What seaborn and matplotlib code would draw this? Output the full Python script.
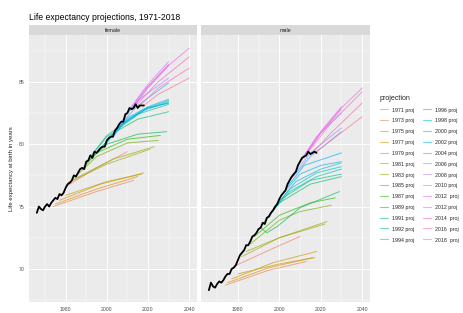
import matplotlib
matplotlib.use('Agg')
import matplotlib.pyplot as plt
import numpy as np
import pandas as pd
import seaborn as sns

sns.set_style('white')
plt.rcParams['font.family'] = ['Liberation Sans', 'DejaVu Sans']

W, H = 463, 313

obs_years = list(range(1966, 2019))
female_obs = [74.5, 75.0, 74.8, 74.7, 75.0, 75.2, 75.0, 75.3, 75.5, 75.7,
              75.6, 76.0, 75.9, 76.1, 76.5, 76.8, 76.9, 77.1, 77.5, 77.4,
              77.7, 78.0, 78.1, 78.0, 78.6, 78.7, 79.1, 78.9, 79.4, 79.3,
              79.5, 79.7, 79.8, 79.8, 80.3, 80.5, 80.6, 80.6, 81.1, 81.3,
              81.6, 81.8, 81.8, 82.4, 82.5, 82.9, 82.8, 82.9, 83.2, 82.9,
              83.1, 83.1, 83.1]
male_obs = [68.3, 68.9, 68.6, 68.5, 68.8, 69.0, 68.9, 69.1, 69.4, 69.6,
            69.6, 70.0, 70.1, 70.3, 70.7, 71.1, 71.3, 71.5, 71.9, 71.9,
            72.2, 72.6, 72.7, 72.9, 73.2, 73.3, 73.7, 73.6, 74.1, 74.2,
            74.5, 74.7, 75.0, 75.2, 75.6, 75.9, 76.1, 76.3, 76.8, 77.1,
            77.4, 77.6, 77.8, 78.3, 78.6, 78.9, 79.0, 79.1, 79.4, 79.2,
            79.3, 79.4, 79.3]

proj_labels = ['1971 proj', '1973 proj', '1975 proj', '1977 proj', '1979 proj',
               '1981 proj', '1983 proj', '1985 proj', '1987 proj', '1989 proj',
               '1991 proj', '1992 proj', '1994 proj', '1996 proj', '1998 proj',
               '2000 proj', '2002 proj', '2004 proj', '2006 proj', '2008 proj',
               '2010 proj', '2012  proj', '2012 proj', '2014  proj',
               '2016  proj', '2018  proj']

# (years, values)
female_proj = {
    '1971 proj': ([1980, 1995, 2010], [76.6, 78.1, 79.4]),
    '1973 proj': ([1974, 1995, 2013], [75.0, 76.2, 77.1]),
    '1975 proj': ([1975, 1995, 2015], [75.2, 76.4, 77.4]),
    '1977 proj': ([1977, 1997, 2018], [75.5, 76.8, 77.7]),
    '1979 proj': ([1980, 2000, 2017], [75.9, 77.0, 77.6]),
    '1981 proj': ([1981, 2000, 2021], [76.9, 78.4, 79.6]),
    '1983 proj': ([1983, 2003, 2023], [77.1, 78.8, 79.8]),
    '1985 proj': ([1986, 1995, 2010, 2025], [77.6, 79.0, 80.1, 80.3]),
    '1987 proj': ([1988, 1995, 2010, 2026], [78.0, 79.3, 80.4, 80.7]),
    '1989 proj': ([1990, 2000, 2015, 2029], [78.5, 80.0, 80.8, 81.0]),
    '1991 proj': ([1992, 2000, 2015, 2030], [79.0, 80.6, 82.0, 82.6]),
    '1992 proj': ([1993, 2000, 2015, 2030], [79.2, 80.7, 82.4, 83.2]),
    '1994 proj': ([1995, 2005, 2018, 2030], [79.3, 81.2, 82.7, 83.4]),
    '1996 proj': ([1997, 2005, 2018, 2030], [79.6, 81.3, 82.8, 83.5]),
    '1998 proj': ([1999, 2008, 2020, 2030], [79.9, 81.7, 82.9, 83.3]),
    '2000 proj': ([2001, 2010, 2020, 2030], [80.4, 82.1, 83.0, 83.6]),
    '2002 proj': ([2003, 2010, 2020, 2030], [80.6, 82.0, 82.9, 83.3]),
    '2004 proj': ([2005, 2015, 2030], [81.3, 83.1, 84.9]),
    '2006 proj': ([2007, 2015, 2030], [81.8, 83.5, 85.3]),
    '2008 proj': ([2009, 2018, 2030], [82.3, 84.3, 86.3]),
    '2010 proj': ([2011, 2020, 2030], [82.8, 84.8, 86.6]),
    '2012  proj': ([2012, 2020, 2030], [82.8, 84.6, 86.4]),
    '2012 proj': ([2013, 2020, 2030, 2040], [83.0, 84.5, 86.3, 87.7]),
    '2014  proj': ([2014, 2025, 2040], [83.1, 85.0, 87.0]),
    '2016  proj': ([2016, 2025, 2040], [83.1, 84.5, 86.1]),
    '2018  proj': ([2018, 2025, 2040], [83.1, 84.0, 85.3]),
}

male_proj = {
    '1971 proj': ([1978, 1995, 2010], [70.2, 71.5, 72.6]),
    '1973 proj': ([1974, 1995, 2013], [68.7, 69.9, 70.6]),
    '1975 proj': ([1975, 1995, 2016], [68.9, 70.1, 70.9]),
    '1977 proj': ([1977, 1997, 2018], [69.2, 70.5, 71.4]),
    '1979 proj': ([1980, 2000, 2017], [69.6, 70.4, 70.9]),
    '1981 proj': ([1982, 2000, 2023], [71.0, 72.5, 73.8]),
    '1983 proj': ([1984, 2000, 2022], [71.4, 72.5, 73.6]),
    '1985 proj': ([1986, 2000, 2010, 2025], [72.0, 73.9, 74.6, 75.1]),
    '1987 proj': ([1988, 2000, 2015, 2027], [72.6, 74.3, 75.3, 75.7]),
    '1989 proj': ([1991, 1994, 1999, 2010, 2029], [73.3, 72.9, 73.4, 74.9, 76.2]),
    '1991 proj': ([1992, 2000, 2015, 2030], [73.6, 75.3, 76.8, 77.4]),
    '1992 proj': ([1993, 2000, 2015, 2030], [73.8, 75.5, 77.1, 77.6]),
    '1994 proj': ([1995, 2005, 2018, 2030], [74.3, 76.2, 77.4, 78.0]),
    '1996 proj': ([1997, 2005, 2018, 2030], [74.7, 76.4, 77.7, 78.2]),
    '1998 proj': ([1999, 2008, 2020, 2030], [75.2, 77.0, 78.0, 78.5]),
    '2000 proj': ([2001, 2010, 2020, 2030], [75.9, 77.6, 78.3, 78.6]),
    '2002 proj': ([2003, 2012, 2030], [76.4, 78.3, 79.3]),
    '2004 proj': ([2005, 2015, 2030], [77.1, 79.0, 81.0]),
    '2006 proj': ([2007, 2015, 2030], [77.6, 79.3, 81.3]),
    '2008 proj': ([2009, 2018, 2030], [78.3, 80.6, 82.5]),
    '2010 proj': ([2011, 2020, 2030], [78.9, 80.9, 82.8]),
    '2012  proj': ([2012, 2020, 2030], [79.0, 81.0, 83.0]),
    '2012 proj': ([2013, 2020, 2030, 2040], [79.2, 80.9, 82.9, 84.5]),
    '2014  proj': ([2014, 2025, 2040], [79.4, 81.7, 84.2]),
    '2016  proj': ([2016, 2025, 2040], [79.3, 80.9, 83.3]),
    '2018  proj': ([2018, 2025, 2040], [79.4, 80.3, 82.2]),
}


def hcl(h, c=100.0, l=65.0):
    # ggplot2 hue_pal colours (polar CIELUV -> sRGB)
    hr = np.radians(h)
    u, v = c * np.cos(hr), c * np.sin(hr)
    xn, yn, zn = 95.047, 100.0, 108.883
    den = xn + 15 * yn + 3 * zn
    un, vn = 4 * xn / den, 9 * yn / den
    y = yn * ((l + 16) / 116) ** 3
    up, vp = u / (13 * l) + un, v / (13 * l) + vn
    x = y * 9 * up / (4 * vp)
    z = y * (12 - 3 * up - 20 * vp) / (4 * vp)
    m = np.array([[3.2404542, -1.5371385, -0.4985314],
                  [-0.9692660, 1.8760108, 0.0415560],
                  [0.0556434, -0.2040259, 1.0572252]])
    rgb = m @ (np.array([x, y, z]) / 100.0)
    rgb = np.where(rgb <= 0.0031308, 12.92 * rgb,
                   1.055 * np.abs(rgb) ** (1 / 2.4) - 0.055)
    return tuple(np.clip(rgb, 0, 1))


hues = np.linspace(15, 375, len(proj_labels) + 1)[:-1]
palette = {lab: hcl(h) for lab, h in zip(proj_labels, hues)}


def long_frame(proj):
    rows = []
    for lab in proj_labels:
        years, vals = proj[lab]
        rows += [(lab, yr, v) for yr, v in zip(years, vals)]
    return pd.DataFrame(rows, columns=['projection', 'year', 'value'])


panels = [('female', 29, 168, female_proj, female_obs),
          ('male', 201, 169, male_proj, male_obs)]

fig = plt.figure(figsize=(W / 100, H / 100), dpi=100)
fig.text(29 / W, 1 - 17 / H, 'Life expectancy projections, 1971-2018',
         fontsize=6.2, va='center', ha='left', color='black')

handles, labels = None, None
for i, (sex, left, width, proj, obs) in enumerate(panels):
    ax = fig.add_axes([left / W, 1 - 302 / H, width / W, 267 / H])
    ax.set_facecolor('#EBEBEB')
    sns.lineplot(data=long_frame(proj), x='year', y='value',
                 hue='projection', hue_order=proj_labels, palette=palette,
                 estimator=None, linewidth=0.7, alpha=0.65, ax=ax,
                 legend=(sex == 'male'))
    sns.lineplot(x=obs_years, y=obs, color='black', linewidth=1.3, ax=ax)

    ax.set_xlim(1962.2, 2043.8)
    ax.set_ylim(67.35, 88.75)
    ax.set_xticks([1980, 2000, 2020, 2040])
    ax.set_xticks([1970, 1990, 2010, 2030], minor=True)
    ax.set_yticks([70, 75, 80, 85])
    ax.set_yticks([67.5, 72.5, 77.5, 82.5, 87.5], minor=True)
    ax.grid(True, which='major', color='white', linewidth=0.7)
    ax.grid(True, which='minor', color='white', linewidth=0.35)
    ax.set_axisbelow(True)
    for sp in ax.spines.values():
        sp.set_visible(False)
    ax.tick_params(which='major', length=1.8, width=0.5, color='#333333',
                   labelsize=3.7, labelcolor='#4D4D4D', pad=1.5)
    ax.tick_params(which='minor', length=0)
    ax.set_xlabel('')
    if i == 0:
        ax.set_ylabel('Life expectancy at birth in years', fontsize=4.3,
                      labelpad=3)
    else:
        ax.set_ylabel('')
        ax.tick_params(axis='y', labelleft=False, length=0)
        handles, labels = ax.get_legend_handles_labels()
        ax.get_legend().remove()

    strip = fig.add_axes([left / W, 1 - 35 / H, width / W, 10 / H])
    strip.set_facecolor('#D9D9D9')
    strip.set_xticks([])
    strip.set_yticks([])
    for sp in strip.spines.values():
        sp.set_visible(False)
    strip.text(0.5, 0.5, sex, fontsize=3.8, color='#1A1A1A',
               ha='center', va='center', transform=strip.transAxes)

for h in handles:
    h.set_linewidth(0.8)
    h.set_alpha(0.55)
leg = fig.legend(handles, labels, loc='upper left',
                 bbox_to_anchor=(380 / W, 1 - 95 / H), ncol=2,
                 frameon=False, fontsize=3.8, title='projection',
                 title_fontsize=5.1, handlelength=1.6, handletextpad=0.7,
                 columnspacing=1.5, labelspacing=0.9, handleheight=1.4,
                 borderpad=0, borderaxespad=0, alignment='left')

fig.savefig('out.png', dpi=100)
